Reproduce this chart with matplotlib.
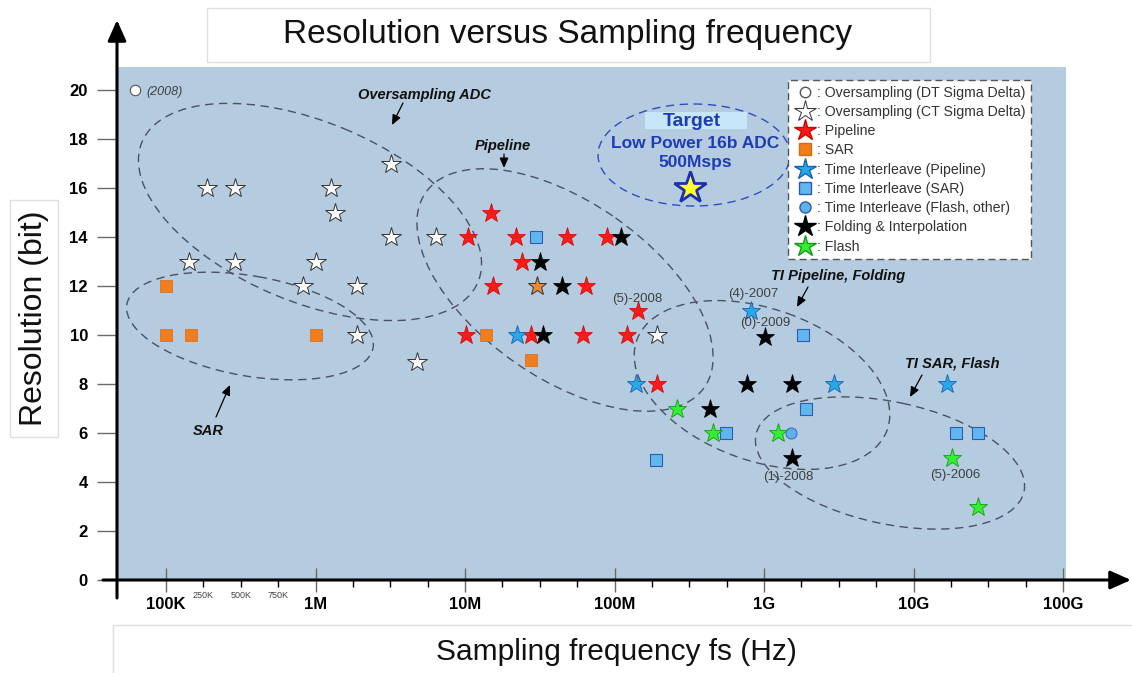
import matplotlib
matplotlib.use('Agg')
import matplotlib.pyplot as plt
from matplotlib.patches import Ellipse, Rectangle, FancyArrowPatch
from matplotlib.transforms import Affine2D
from matplotlib.ticker import FixedLocator, FixedFormatter
from matplotlib.lines import Line2D

plt.rcParams['font.family'] = ['Liberation Sans', 'DejaVu Sans']

W, H = 1132, 673

# ---------------- data (sampling frequency in Hz, resolution in bits) ----------------
dt_sd_fs = [6.2e4]
dt_sd_bits = [20]

ct_sd_fs = [1.87e5, 2.9e5, 1.43e5, 2.9e5, 1.26e6, 1.36e6, 3.18e6, 1.0e6,
            8.2e5, 1.89e6, 1.89e6, 3.18e6, 6.4e6, 4.75e6, 1.93e8]
ct_sd_bits = [16, 16, 13, 13, 16, 15, 17, 13, 12, 12, 10, 14, 14, 8.9, 10]

pipe_fs = [1.05e7, 1.49e7, 2.18e7, 4.79e7, 8.87e7, 2.39e7, 1.55e7, 6.41e7,
           1.44e8, 1.01e7, 2.75e7, 6.12e7, 1.22e8, 1.93e8]
pipe_bits = [14, 15, 14, 14, 14, 13, 12, 12, 11, 10, 10, 10, 10, 8]

sar_fs = [1.0e5, 1.0e5, 1.46e5, 1.0e6, 1.38e7, 2.75e7]
sar_bits = [12, 10, 10, 10, 10, 9]

sar_star_fs = [3.02e7]
sar_star_bits = [12]

ti_pipe_fs = [2.24e7, 1.39e8, 8.15e8, 2.94e9, 1.67e10]
ti_pipe_bits = [10, 8, 11, 8, 8]

ti_sar_fs = [2.97e7, 1.83e9, 1.91e9, 5.55e8, 1.92e10, 2.71e10, 1.89e8]
ti_sar_bits = [14, 10, 7, 6, 6, 6, 4.9]

ti_flash_fs = [1.51e9]
ti_flash_bits = [6]

fold_fs = [1.10e8, 3.18e7, 4.48e7, 3.31e7, 1.02e9, 7.73e8, 1.55e9, 4.36e8, 1.55e9]
fold_bits = [14, 13, 12, 10, 9.9, 8, 8, 7, 5]

flash_fs = [2.63e8, 4.54e8, 1.24e9, 1.82e10, 2.69e10]
flash_bits = [7, 6, 6, 5, 3]

target_fs = [3.2e8]
target_bits = [16]

x_major = [1e5, 1e6, 1e7, 1e8, 1e9, 1e10, 1e11]
x_major_labels = ['100K', '1M', '10M', '100M', '1G', '10G', '100G']
x_minor = [10 ** (d + q) for d in range(5, 11) for q in (0.25, 0.5, 0.75)]
x_minor_labels = ['250K', '500K', '750K'] + [''] * (len(x_minor) - 3)
y_ticks = list(range(0, 21, 2))

legend_labels = [': Oversampling (DT Sigma Delta)', ': Oversampling (CT Sigma Delta)',
                 ': Pipeline', ': SAR', ': Time Interleave (Pipeline)',
                 ': Time Interleave (SAR)', ': Time Interleave (Flash, other)',
                 ': Folding & Interpolation', ': Flash']

# ---------------- figure ----------------
fig = plt.figure(figsize=(W / 100, H / 100), dpi=100)
fig.patch.set_facecolor('white')
T = Affine2D().scale(1, -1).translate(0, H)   # image-pixel layout transform

ax = fig.add_axes([117 / W, 1 - 580 / H, 949 / W, 513 / H])
ax.set_facecolor('#b5cbe0')
ax.set_xscale('log')
ax.set_xlim(10 ** 4.672, 10 ** 11.02)
ax.set_ylim(0, 20.94)
for s in ax.spines.values():
    s.set_visible(False)

ax.xaxis.set_major_locator(FixedLocator(x_major))
ax.xaxis.set_major_formatter(FixedFormatter(x_major_labels))
ax.xaxis.set_minor_locator(FixedLocator(x_minor))
ax.xaxis.set_minor_formatter(FixedFormatter(x_minor_labels))
ax.tick_params(axis='x', which='major', direction='inout', length=17, width=1,
               color='#6a6a6a', pad=4, labelsize=12)
ax.tick_params(axis='x', which='minor', direction='out', length=5, width=1,
               color='black', pad=3, labelsize=6.5, labelcolor='#444444')
for lab in ax.get_xticklabels(which='major'):
    lab.set_fontweight('bold')
ax.set_yticks(y_ticks)
ax.tick_params(axis='y', direction='out', length=14.4, width=1, color='#6a6a6a',
               pad=6.5, labelsize=12)
for lab in ax.get_yticklabels():
    lab.set_fontweight('bold')

# ---------------- markers ----------------
star_ms = 14
ax.plot(dt_sd_fs, dt_sd_bits, 'o', ms=7.5, mfc='white', mec='#555555', mew=0.8, ls='none', zorder=5)
ax.plot(ct_sd_fs, ct_sd_bits, '*', ms=star_ms + 1, mfc='#fafafa', mec='#333333', mew=0.7, ls='none', zorder=5)
ax.plot(pipe_fs, pipe_bits, '*', ms=star_ms, mfc='#ff1a1a', mec='#d00000', mew=0.5, ls='none', zorder=5)
ax.plot(sar_fs, sar_bits, 's', ms=8, mfc='#f07d1e', mec='#d86a10', mew=0.5, ls='none', zorder=5)
ax.plot(sar_star_fs, sar_star_bits, '*', ms=star_ms, mfc='#f08a30', mec='#333333', mew=0.7, ls='none', zorder=5)
ax.plot(ti_pipe_fs, ti_pipe_bits, '*', ms=star_ms, mfc='#26a9e8', mec='#1a5fb0', mew=0.6, ls='none', zorder=5)
ax.plot(ti_sar_fs, ti_sar_bits, 's', ms=8, mfc='#62b6f0', mec='#2a5db0', mew=0.8, ls='none', zorder=5)
ax.plot(ti_flash_fs, ti_flash_bits, 'o', ms=8, mfc='#62b0e8', mec='#2a5db0', mew=0.6, ls='none', zorder=5)
ax.plot(fold_fs, fold_bits, '*', ms=star_ms, mfc='black', mec='black', mew=0.5, ls='none', zorder=5)
ax.plot(flash_fs, flash_bits, '*', ms=star_ms, mfc='#33ee33', mec='#159a15', mew=0.6, ls='none', zorder=5)
ax.plot(target_fs, target_bits, '*', ms=24, mfc='#ffff33', mec='#1c2fb0', mew=2, ls='none', zorder=6)

# ---------------- group ellipses (layout in image pixels) ----------------
ell_style = dict(fill=False, ec='#4a5260', lw=1.0, ls=(0, (6, 4)), transform=T, zorder=3)
for (cx, cy, a, b, ang) in [(310, 212, 182, 90, 22.6),
                            (250, 326, 125, 50, 10),
                            (565, 290, 170, 88, 35),
                            (762, 385, 133, 76, 19.7),
                            (890, 463, 137, 61, 12)]:
    ax.add_artist(Ellipse((cx, cy), 2 * a, 2 * b, angle=ang, **ell_style))
ax.add_artist(Ellipse((694, 155), 192, 102, angle=0, fill=False, ec='#2f4cc4', lw=1.0,
                      ls=(0, (6, 4)), transform=T, zorder=3))

# ---------------- group labels and arrows ----------------
lab_style = dict(transform=T, fontsize=10.5, fontweight='bold', fontstyle='italic',
                 color='#111111', ha='center', va='center', zorder=7)
ax.text(424, 95, 'Oversampling ADC', **lab_style)
ax.text(503, 146, 'Pipeline', **lab_style)
ax.text(208, 431, 'SAR', **lab_style)
ax.text(838, 276, 'TI Pipeline, Folding', **lab_style)
ax.text(952, 363, 'TI SAR, Flash', **lab_style)
for (x0, y0, x1, y1) in [(403, 103, 392, 125), (504, 154, 504, 168), (216, 417, 230, 385),
                         (808, 287, 797, 307), (922, 375, 910, 397)]:
    ax.annotate('', xy=(x1, y1), xytext=(x0, y0), xycoords=T, textcoords=T,
                arrowprops=dict(arrowstyle='-|>,head_length=0.5,head_width=0.22',
                                color='black', lw=0.9, shrinkA=0, shrinkB=0,
                                mutation_scale=12), annotation_clip=False, zorder=7)

yr_style = dict(transform=T, fontsize=9.5, color='#404040', ha='center', va='center', zorder=7)
ax.text(637, 299, '(5)-2008', **yr_style)
ax.text(753, 294, '(4)-2007', **yr_style)
ax.text(765, 323, '(0)-2009', **yr_style)
ax.text(788, 477, '(1)-2008', **yr_style)
ax.text(955, 475, '(5)-2006', **yr_style)
ax.text(146, 92, '(2008)', transform=T, fontsize=9, fontstyle='italic', color='#404040',
        ha='left', va='center', zorder=7)

# Target box
ax.add_artist(Rectangle((645, 112), 102, 17, transform=T, fc='#c8e6fa', ec='none', zorder=4))
tgt = dict(transform=T, color='#1f3cb4', fontweight='bold', ha='center', va='center', zorder=7)
ax.text(692, 121, 'Target', fontsize=14, **tgt)
ax.text(695, 143, 'Low Power 16b ADC', fontsize=12.5, **tgt)
ax.text(695, 163, '500Msps', fontsize=12.5, **tgt)

# ---------------- legend ----------------
handles = [
    Line2D([], [], marker='o', ms=7.5, mfc='white', mec='#555555', ls='none'),
    Line2D([], [], marker='*', ms=star_ms + 2, mfc='white', mec='#333333', mew=0.7, ls='none'),
    Line2D([], [], marker='*', ms=star_ms + 2, mfc='#ff1a1a', mec='#d00000', ls='none'),
    Line2D([], [], marker='s', ms=8, mfc='#f07d1e', mec='#d86a10', ls='none'),
    Line2D([], [], marker='*', ms=star_ms + 2, mfc='#26a9e8', mec='#1a5fb0', ls='none'),
    Line2D([], [], marker='s', ms=8, mfc='#62b6f0', mec='#2a5db0', ls='none'),
    Line2D([], [], marker='o', ms=8, mfc='#62b0e8', mec='#2a5db0', ls='none'),
    Line2D([], [], marker='*', ms=star_ms + 2, mfc='black', mec='black', ls='none'),
    Line2D([], [], marker='*', ms=star_ms + 2, mfc='#33ee33', mec='#159a15', ls='none'),
]
leg = ax.legend(handles, legend_labels, loc='upper left',
                bbox_to_anchor=(788 / W, 1 - 80 / H), bbox_transform=fig.transFigure,
                fontsize=10.2, frameon=True, fancybox=False, edgecolor='#555555',
                framealpha=1, facecolor='white', borderpad=0.4, labelspacing=0.37,
                handlelength=1.6, handletextpad=0.05, borderaxespad=0)
leg.get_frame().set_linestyle((0, (5, 3)))
leg.get_frame().set_linewidth(1.0)
leg.set_zorder(10)
for t in leg.get_texts():
    t.set_color('#333333')

# ---------------- axis arrows ----------------
fig.add_artist(FancyArrowPatch((117, 598), (117, 20), transform=T,
                               arrowstyle='-|>,head_length=0.9,head_width=0.4',
                               mutation_scale=14, lw=2.2, color='black',
                               shrinkA=0, shrinkB=0, zorder=20))
fig.add_artist(FancyArrowPatch((103, 580), (1131, 580), transform=T,
                               arrowstyle='-|>,head_length=0.9,head_width=0.4',
                               mutation_scale=14, lw=2.2, color='black',
                               shrinkA=0, shrinkB=0, zorder=20))

# ---------------- title & axis label boxes ----------------
fig.add_artist(Rectangle((207, 8), 723, 54, transform=T, fc='white', ec='#e0e0e0', lw=1, zorder=0))
fig.text(568, 35, 'Resolution versus Sampling frequency', transform=T, fontsize=24,
         ha='center', va='center', color='#111111')
fig.add_artist(Rectangle((113, 625), 1030, 60, transform=T, fc='white', ec='#e0e0e0', lw=1, zorder=0))
fig.text(616, 652, 'Sampling frequency fs (Hz)', transform=T, fontsize=21.5,
         ha='center', va='center', color='#111111')
fig.add_artist(Rectangle((10, 200), 48, 237, transform=T, fc='white', ec='#e0e0e0', lw=1, zorder=0))
fig.text(34, 318, 'Resolution (bit)', transform=T, fontsize=23, rotation=90,
         ha='center', va='center', color='#111111')

fig.savefig('out.png', dpi=100)
